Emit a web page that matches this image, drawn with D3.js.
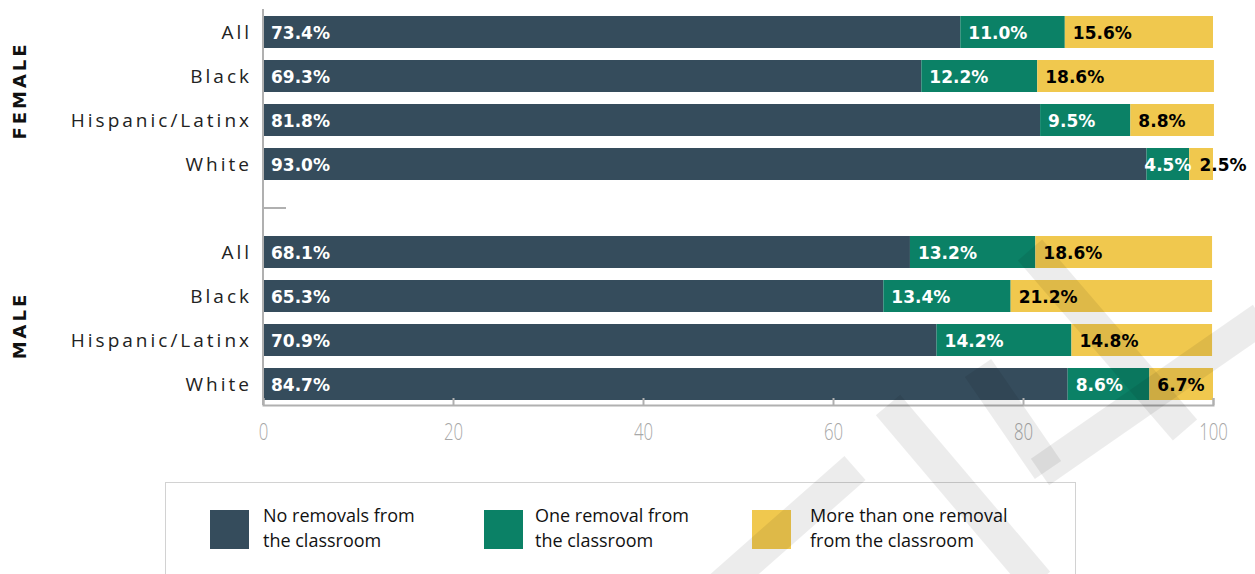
<!DOCTYPE html>
<html>
<head>
<meta charset="utf-8">
<script src="https://cdn.jsdelivr.net/npm/d3@7"></script>
<style>
  body { margin: 0; background: #fff; }
  svg { display: block; }
</style>
</head>
<body>
<svg id="chart" width="1255" height="574"></svg>
<script>
// Share of students by number of classroom removals, by gender and race/ethnicity
const genders = ["FEMALE", "MALE"];
const races = ["All", "Black", "Hispanic/Latinx", "White"];
const noRemoval    = [73.4, 69.3, 81.8, 93.0, 68.1, 65.3, 70.9, 84.7];
const oneRemoval   = [11.0, 12.2, 9.5, 4.5, 13.2, 13.4, 14.2, 8.6];
const multiRemoval = [15.6, 18.6, 8.8, 2.5, 18.6, 21.2, 14.8, 6.7];
const seriesKeys = ["none", "one", "multi"];
const legendLines = [
  ["No removals from", "the classroom"],
  ["One removal from", "the classroom"],
  ["More than one removal", "from the classroom"]
];
const tickValues = [0, 20, 40, 60, 80, 100];
const colors = ["#354c5c", "#0b8166", "#f0c84e"];
const labelColors = ["#ffffff", "#ffffff", "#000000"];

const svg = d3.select("#chart");

// rows in drawing order, with a spacer band between the two genders
const rows = [];
genders.forEach((g, gi) => {
  races.forEach((r, ri) => {
    const i = gi * races.length + ri;
    rows.push({ key: g + "|" + r, gender: g, race: r,
      none: noRemoval[i], one: oneRemoval[i], multi: multiRemoval[i] });
  });
});
const bandKeys = [
  ...rows.filter(d => d.gender === genders[0]).map(d => d.key),
  "gap",
  ...rows.filter(d => d.gender === genders[1]).map(d => d.key)
];

const x = d3.scaleLinear().domain([0, 100]).range([263, 1213]);
const y = d3.scaleBand().domain(bandKeys).range([10, 406])
  .paddingInner(12 / 44).paddingOuter(6 / 44);

const stacked = d3.stack().keys(seriesKeys)(rows);

// stacked bars
const barLayer = svg.append("g");
stacked.forEach((s, si) => {
  barLayer.selectAll(null).data(s).join("rect")
    .attr("x", d => x(d[0]))
    .attr("y", d => y(d.data.key))
    .attr("width", d => x(d[1]) - x(d[0]))
    .attr("height", y.bandwidth())
    .attr("fill", colors[si]);
});

// left axis line and spacer tick
const axisColor = "#b0b0b0";
svg.append("line")
  .attr("x1", x(0)).attr("x2", x(0))
  .attr("y1", y.range()[0] - 1).attr("y2", 405)
  .attr("stroke", axisColor).attr("stroke-width", 2);
svg.append("line")
  .attr("x1", x(0)).attr("x2", x(0) + 23)
  .attr("y1", y("gap") + y.bandwidth() / 2).attr("y2", y("gap") + y.bandwidth() / 2)
  .attr("stroke", axisColor).attr("stroke-width", 2);

// bottom axis
const xAxis = d3.axisBottom(x).tickValues(tickValues)
  .tickSize(-7).tickSizeOuter(-7).tickPadding(18).tickFormat(d3.format("d"));
const axisG = svg.append("g").attr("transform", "translate(0,405)").call(xAxis);
axisG.select(".domain").attr("stroke", axisColor).attr("stroke-width", 2);
axisG.selectAll(".tick line").attr("stroke", axisColor).attr("stroke-width", 2);
axisG.selectAll(".tick text")
  .attr("fill", "#a8a8a8")
  .attr("transform", "scale(0.7,1)")
  .style("font-family", "'Open Sans', sans-serif")
  .style("font-weight", 300)
  .style("font-size", "24px");

// category labels
svg.append("g").selectAll("text").data(rows).join("text")
  .attr("x", 252)
  .attr("y", d => y(d.key) + y.bandwidth() / 2 + 7)
  .attr("text-anchor", "end")
  .style("font-family", "'Open Sans', sans-serif")
  .style("font-size", "19px")
  .style("letter-spacing", "3px")
  .attr("fill", "#222")
  .text(d => d.race);

// gender labels, rotated
const genderCenter = g => {
  const ks = rows.filter(d => d.gender === g).map(d => d.key);
  return (y(ks[0]) + y(ks[ks.length - 1]) + y.bandwidth()) / 2;
};
const genderOffset = { FEMALE: -9, MALE: 6 };
genders.forEach(g => {
  svg.append("text")
    .attr("transform", `translate(26,${genderCenter(g) + genderOffset[g] + 1.5}) rotate(-90)`)
    .attr("text-anchor", "middle")
    .style("font-family", "'DejaVu Sans', sans-serif")
    .style("font-weight", 700)
    .style("font-size", "18px")
    .style("letter-spacing", "3px")
    .attr("fill", "#111")
    .text(g);
});

// value labels
const fmt = v => d3.format(".1f")(v) + "%";
const labelLayer = svg.append("g")
  .style("font-family", "'DejaVu Sans', sans-serif")
  .style("font-weight", 700)
  .style("font-size", "17px");
rows.forEach((row, ri) => {
  let prevEnd = -Infinity;
  stacked.forEach((s, si) => {
    const d = s[ri];
    const x0 = x(d[0]), x1 = x(d[1]);
    const t = labelLayer.append("text")
      .attr("y", y(row.key) + y.bandwidth() / 2 + 6.5)
      .attr("fill", labelColors[si])
      .text(fmt(row[seriesKeys[si]]));
    const w = t.node().getComputedTextLength();
    let tx = x0 + 8;
    if (tx + w > x1 - 2) tx = (x0 + x1) / 2 - w / 2;
    tx = Math.max(tx, prevEnd + 8);
    t.attr("x", tx);
    prevEnd = tx + w;
  });
});

// legend
const legend = svg.append("g");
legend.append("rect")
  .attr("x", 165.5).attr("y", 482.5).attr("width", 910).attr("height", 140)
  .attr("fill", "none").attr("stroke", "#d2d2d2").attr("stroke-width", 1);
const legendX = [210, 484, 752];
const legendTextX = [263, 535, 810];
legendLines.forEach((lines, i) => {
  legend.append("rect")
    .attr("x", legendX[i]).attr("y", 510).attr("width", 39).attr("height", 39)
    .attr("fill", colors[i]);
  const t = legend.append("text")
    .style("font-family", "'Open Sans', sans-serif")
    .style("font-size", "18px")
    .attr("fill", "#111");
  lines.forEach((ln, li) => {
    t.append("tspan").attr("x", legendTextX[i]).attr("y", 522 + li * 25).text(ln);
  });
});

// faint watermark strokes across the lower right
const marks = [
  [[1030, 250], [1185, 430]],
  [[1262, 318], [1040, 472]],
  [[978, 368], [1048, 470]],
  [[888, 405], [1038, 582]],
  [[855, 468], [712, 594]]
];
const wm = svg.append("g").style("pointer-events", "none");
marks.forEach(m => {
  wm.append("path")
    .attr("d", d3.line()(m))
    .attr("stroke", "rgba(0,0,0,0.075)")
    .attr("stroke-width", 32)
    .attr("fill", "none");
});
</script>
</body>
</html>
